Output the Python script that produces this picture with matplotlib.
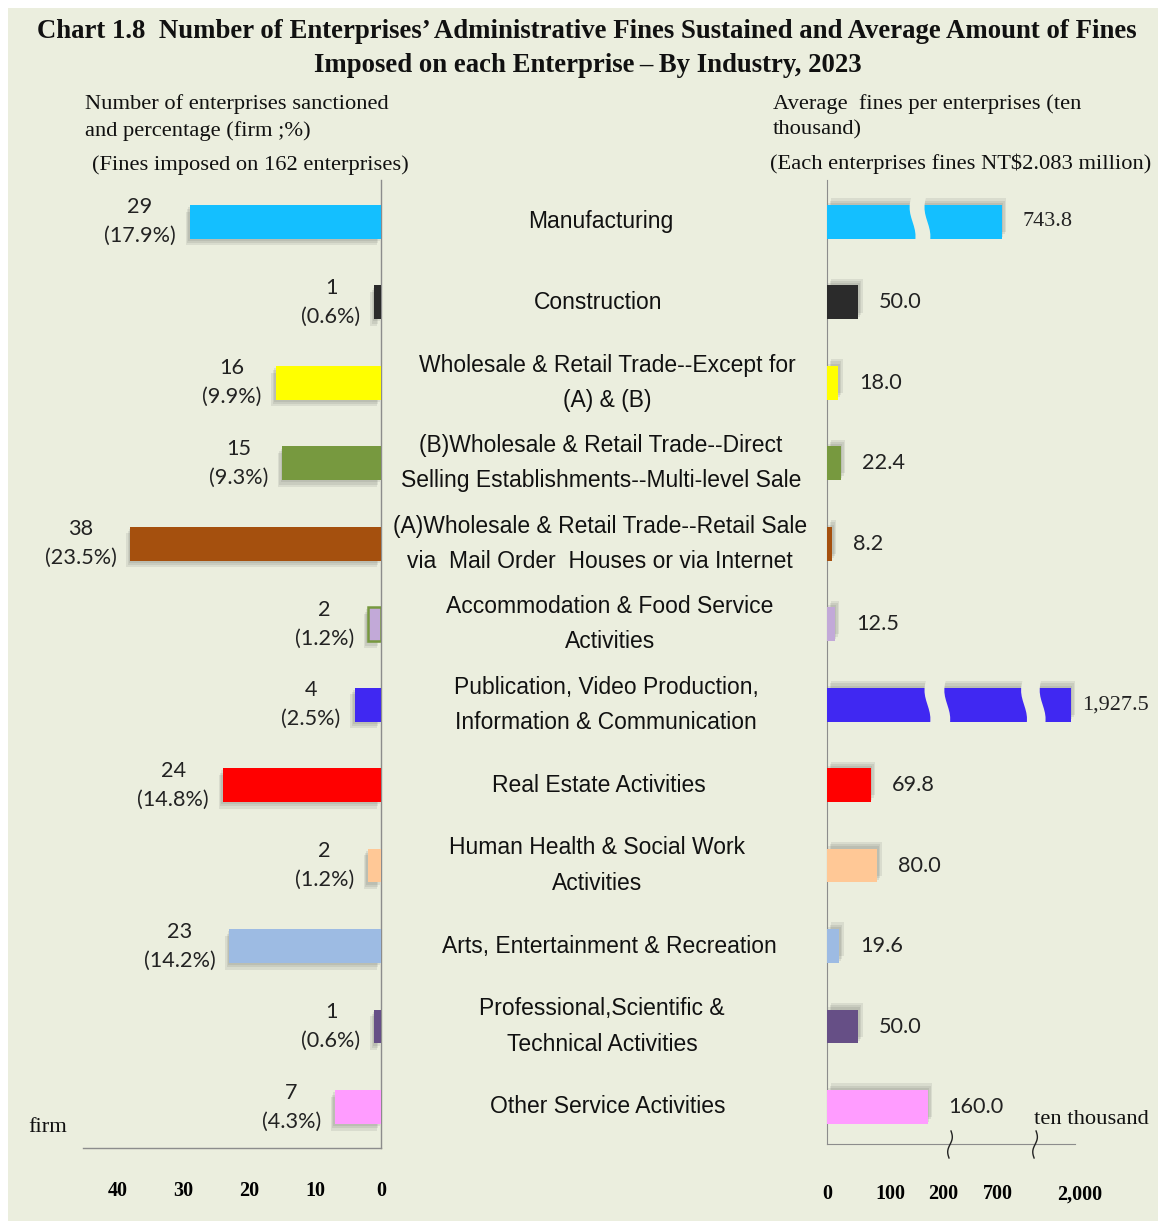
import matplotlib
matplotlib.use('Agg')
import matplotlib.pyplot as plt
import numpy as np
from matplotlib import patheffects as pe
from matplotlib.patches import Rectangle, Polygon
import matplotlib.transforms as mtransforms

# ---------------- data ----------------
categories = [
    "Manufacturing",
    "Construction",
    "Wholesale & Retail Trade--Except for\n(A) & (B)",
    "(B)Wholesale & Retail Trade--Direct\nSelling Establishments--Multi-level Sale",
    "(A)Wholesale & Retail Trade--Retail Sale\nvia  Mail Order  Houses or via Internet",
    "Accommodation & Food Service\nActivities",
    "Publication, Video Production,\nInformation & Communication",
    "Real Estate Activities",
    "Human Health & Social Work\nActivities",
    "Arts, Entertainment & Recreation",
    "Professional,Scientific &\nTechnical Activities",
    "Other Service Activities",
]
firms = [29, 1, 16, 15, 38, 2, 4, 24, 2, 23, 1, 7]
firm_pct = [17.9, 0.6, 9.9, 9.3, 23.5, 1.2, 2.5, 14.8, 1.2, 14.2, 0.6, 4.3]
avg_fines = [743.8, 50.0, 18.0, 22.4, 8.2, 12.5, 1927.5, 69.8, 80.0, 19.6, 50.0, 160.0]
avg_labels = ["743.8", "50.0", "18.0", "22.4", "8.2", "12.5", "1,927.5", "69.8",
              "80.0", "19.6", "50.0", "160.0"]
left_ticks = [40, 30, 20, 10, 0]
right_ticks = [0, 100, 200, 700, 2000]
right_tick_labels = ["0", "100", "200", "700", "2,000"]

colors = ["#14BFFF", "#2B2B2B", "#FFFF00", "#77993F", "#A5500E", "#C2A9D8",
          "#4028F2", "#FF0000", "#FFC896", "#9DBBE3", "#664F86", "#FF9CFF"]
edge_colors = [None] * 12
edge_colors[5] = "#77993F"
# horizontal centre (pixels) of each category label block
label_cx = [601, 598, 607, 601, 600, 610, 606, 599, 597, 609, 602, 608]

BG = "#EBEEDE"
W, H = 1163, 1221
fig = plt.figure(figsize=(W / 100, H / 100), dpi=100, facecolor="white")
fig.patches.append(Rectangle((8 / W, 0), (1158 - 8) / W, (1213) / H,
                             transform=fig.transFigure, facecolor=BG,
                             edgecolor="none", zorder=-10))

def fx(px):
    return px / W

def fy(py):
    return 1 - py / H

SERIF = "Liberation Serif"
SANS = "Liberation Sans"
NUM = "Lato"

n = len(categories)
ypos = np.arange(n)
bar_h = 0.42

# ---------------- left axes ----------------
axL = fig.add_axes([fx(83), fy(1148), fx(381 - 83), (1148 - 180) / H])
axL.set_facecolor("none")
axL.set_xlim(45.2, 0)
axL.set_ylim(11.51, -0.52)

shadowL = [pe.SimplePatchShadow(offset=(-1.0 * k, -1.6 * k), shadow_rgbFace="#444444", alpha=0.10)
           for k in (1, 2, 3)] + [pe.Normal()]
barsL = axL.barh(ypos, firms, height=bar_h, color=colors, zorder=3)
for b, ec in zip(barsL, edge_colors):
    b.set_path_effects(shadowL)
    if ec:
        b.set_edgecolor(ec)
        b.set_linewidth(1.8)

for i in range(n):
    axL.annotate(f"{firms[i]}\n({firm_pct[i]}%)", xy=(firms[i], ypos[i]),
                 xytext=(-10, 0), textcoords="offset points", ha="right", va="center",
                 multialignment="center", fontsize=15.6, family=NUM, color="#222222",
                 linespacing=1.55)

for s in ["top", "left"]:
    axL.spines[s].set_visible(False)
axL.spines["right"].set_color("#8C8C8C")
axL.spines["bottom"].set_color("#8C8C8C")
axL.spines["right"].set_linewidth(1.0)
axL.spines["bottom"].set_linewidth(1.0)
axL.set_yticks([])
axL.set_xticks(left_ticks)
axL.set_xticklabels([str(t) for t in left_ticks], family=SERIF, fontweight="bold", fontsize=14.5)
axL.tick_params(axis="x", which="major", length=0, pad=24)
axL.set_xticks([40, 20, 0], minor=True)
axL.tick_params(axis="x", which="minor", length=5, color="#8C8C8C", direction="out")

# ---------------- right axes (broken scale) ----------------
def fwd(v):
    v = np.asarray(v, dtype=float)
    return np.where(v <= 200, v,
                    np.where(v <= 800, 200 + (v - 200) * 0.1434,
                             286.04 + (v - 800) * 0.08975))

def inv(u):
    u = np.asarray(u, dtype=float)
    return np.where(u <= 200, u,
                    np.where(u <= 286.04, 200 + (u - 200) / 0.1434,
                             800 + (u - 286.04) / 0.08975))

axR = fig.add_axes([fx(827), fy(1144), fx(1075 - 827), (1144 - 180) / H])
axR.set_facecolor("none")
axR.set_xscale("function", functions=(fwd, inv))
axR.set_xlim(0, 2000)
axR.set_ylim(11.46, -0.52)

shadowR = [pe.SimplePatchShadow(offset=(1.0 * k, 1.6 * k), shadow_rgbFace="#444444", alpha=0.10)
           for k in (1, 2, 3)] + [pe.Normal()]
barsR = axR.barh(ypos, avg_fines, height=bar_h, color=colors, zorder=3)
for b in barsR:
    b.set_path_effects(shadowR)

for i in range(n):
    fam = SERIF if avg_fines[i] > 700 else NUM
    fs = 16 if avg_fines[i] > 700 else 15.6
    off = 8 if avg_fines[i] > 1500 else 15
    axR.annotate(avg_labels[i], xy=(avg_fines[i], ypos[i]), xytext=(off, 0),
                 textcoords="offset points", ha="left", va="center",
                 fontsize=fs, family=fam, color="#222222")

# break gaps on the long bars (axes-fraction x, data y)
blendR = mtransforms.blended_transform_factory(axR.transAxes, axR.transData)

def gap(xc, yc, w):
    t = np.linspace(-0.36, 0.36, 15)
    xs = xc + 0.012 * np.sin(np.pi * t / 0.36)
    pts = np.vstack([np.column_stack([xs - w / 2, yc + t]),
                     np.column_stack([xs[::-1] + w / 2, yc + t[::-1]])])
    axR.add_patch(Polygon(pts, closed=True, transform=blendR, facecolor=BG,
                          edgecolor="none", zorder=5))

gap(0.375, ypos[0], 0.06)
gap(0.445, ypos[6], 0.08)
gap(0.832, ypos[6], 0.075)

for s in ["top", "right"]:
    axR.spines[s].set_visible(False)
axR.spines["left"].set_color("#8C8C8C")
axR.spines["bottom"].set_color("#8C8C8C")
axR.set_yticks([])
axR.set_xticks(right_ticks)
axR.set_xticklabels(right_tick_labels, family=SERIF, fontweight="bold", fontsize=14.5)
axR.tick_params(axis="x", which="major", length=0, pad=29)
axR.xaxis.set_minor_locator(matplotlib.ticker.FixedLocator([0, 2000]))
axR.xaxis.set_minor_formatter(matplotlib.ticker.NullFormatter())
axR.tick_params(axis="x", which="minor", length=6, color="#8C8C8C", direction="out")
# nudge the labels next to the breaks as in the original layout
tl = axR.xaxis.get_majorticklabels()
tl[2].set_transform(tl[2].get_transform() + mtransforms.ScaledTranslation(-0.10, 0, fig.dpi_scale_trans))
tl[4].set_transform(tl[4].get_transform() + mtransforms.ScaledTranslation(0.05, 0, fig.dpi_scale_trans))

# axis-break squiggles
for xb in (0.496, 0.839):
    t = np.linspace(-1, 1, 30)
    axR.plot(xb + 0.012 * np.sin(np.pi * t) * 0.6 + 0.004 * t, -0.0005 + 0.014 * t,
             transform=axR.transAxes, color="#222222", lw=1.0, clip_on=False, zorder=6)

# ---------------- category labels ----------------
blendC = mtransforms.blended_transform_factory(fig.transFigure, axL.transData)
for i, c in enumerate(categories):
    fig.text(fx(label_cx[i]), ypos[i], c, transform=blendC, ha="center", va="center",
             multialignment="center", fontsize=16.5, family=SANS, color="#111111",
             linespacing=1.68)

# ---------------- titles & annotations ----------------
fig.text(fx(587), fy(32), "Chart 1.8  Number of Enterprises\u2019 Administrative Fines Sustained and Average Amount of Fines",
         ha="center", va="center", family=SERIF, fontweight="bold", fontsize=19.3, color="#111111")
fig.text(fx(588), fy(65), "Imposed on each Enterprise\u2009\u2013\u2009By Industry, 2023",
         ha="center", va="center", family=SERIF, fontweight="bold", fontsize=19.3, color="#111111")

SUB = 16.2
fig.text(fx(85), fy(104), "Number of enterprises sanctioned", ha="left", va="center",
         family=SERIF, fontsize=SUB, color="#111111")
fig.text(fx(85), fy(131), "and percentage (firm ;%)", ha="left", va="center",
         family=SERIF, fontsize=SUB, color="#111111")
fig.text(fx(92), fy(165), "(Fines imposed on 162 enterprises)", ha="left", va="center",
         family=SERIF, fontsize=SUB, color="#111111")
fig.text(fx(773), fy(104), "Average  fines per enterprises (ten", ha="left", va="center",
         family=SERIF, fontsize=SUB, color="#111111")
fig.text(fx(773), fy(130), "thousand)", ha="left", va="center",
         family=SERIF, fontsize=SUB, color="#111111")
fig.text(fx(770), fy(164), "(Each enterprises fines NT$2.083 million)", ha="left", va="center",
         family=SERIF, fontsize=SUB, color="#111111")

fig.text(fx(28), fy(1127), "firm", ha="left", va="center", family=SERIF, fontsize=SUB, color="#111111")
fig.text(fx(1034), fy(1119), "ten thousand", ha="left", va="center", family=SERIF, fontsize=SUB,
         color="#111111")

fig.savefig("out.png", dpi=100, facecolor="white")
